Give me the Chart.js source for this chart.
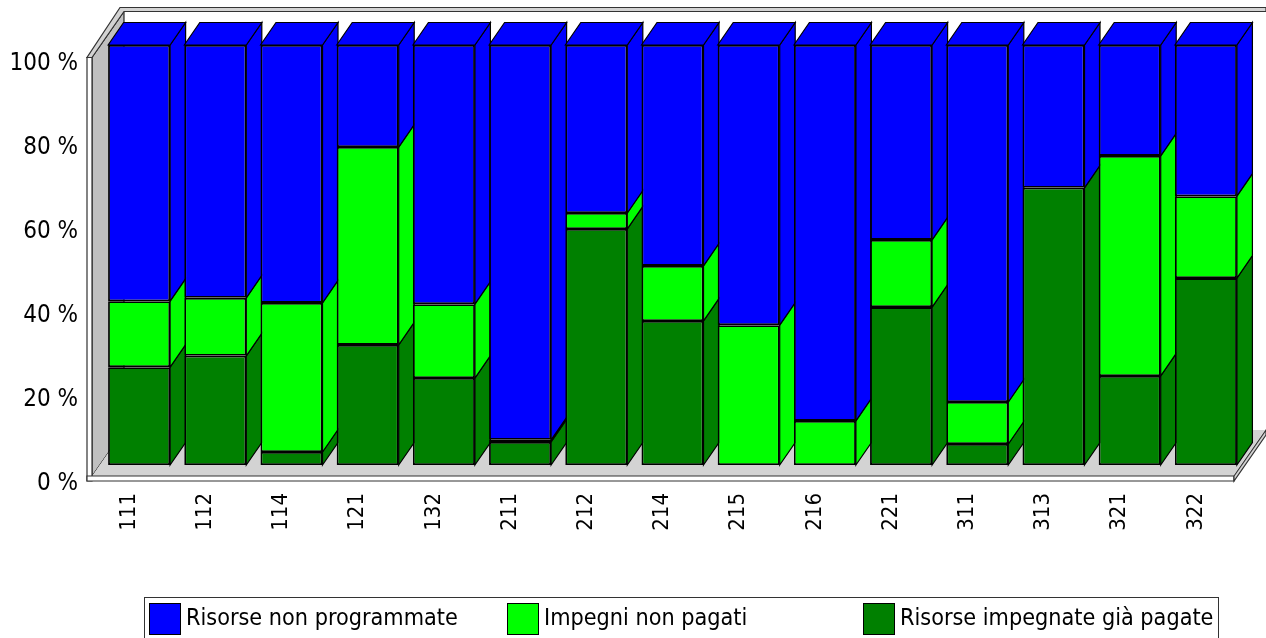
<!DOCTYPE html>
<html>
<head>
<meta charset="utf-8">
<script src="https://cdn.jsdelivr.net/npm/chart.js@4"></script>
<style>
    html, body { margin: 0; padding: 0; background: #fff; overflow: hidden; }
    #wrap { position: relative; width: 1266px; height: 638px; overflow: hidden; }
    #legend { position: absolute; left: 144px; top: 597px; width: 1075px; height: 60px; border: 1px solid #333; box-sizing: border-box; }
    .item { position: absolute; top: 5px; height: 32px; white-space: nowrap; font: 23.2px "DejaVu Sans Condensed", "DejaVu Sans", sans-serif; color: #000; line-height: 28px; }
    .swatch { display: inline-block; width: 30px; height: 30px; border: 1px solid #000; vertical-align: top; margin-right: 5px; }
</style>
</head>
<body>
<div id="wrap">
    <canvas id="chart" width="1266" height="638"></canvas>
    <div id="legend"></div>
</div>
<script>
const categories = ['111', '112', '114', '121', '132', '211', '212', '214', '215', '216', '221', '311', '313', '321', '322'];
const paid = [23.3, 26, 3.1, 28.6, 20.7, 5.5, 56.2, 34.3, 0, 0, 37.6, 5, 66, 21.2, 44.5];
const unpaid = [15.7, 13.8, 35.5, 47.1, 17.6, 0.5, 3.8, 13.1, 33.3, 10.5, 16, 10, 0, 52.4, 19.5];
const notProgrammed = [61, 60.2, 61.4, 24.3, 61.7, 94, 40, 52.6, 66.7, 89.5, 46.4, 85, 34, 26.4, 36];
const yTicks = [0, 20, 40, 60, 80, 100];
const legendLabels = ['Risorse non programmate', 'Impegni non pagati', 'Risorse impegnate già pagate'];
const legendColors = ['#0000ff', '#00ff00', '#008000'];
const legendLefts = [4, 362, 718];

// depth of the bars and of the box behind them
const barDx = 15.5, barDy = -22.5;
const fontFamily = '"DejaVu Sans Condensed", "DejaVu Sans", sans-serif';

function poly(ctx, pts, fill, stroke, lw) {
    ctx.beginPath();
    pts.forEach((p, i) => i ? ctx.lineTo(p[0], p[1]) : ctx.moveTo(p[0], p[1]));
    ctx.closePath();
    if (fill) { ctx.fillStyle = fill; ctx.fill(); }
    if (stroke) { ctx.strokeStyle = stroke; ctx.lineWidth = lw || 1; ctx.stroke(); }
}

const boxPlugin = {
    id: 'box3d',
    beforeDatasetsDraw(chart) {
        const ctx = chart.ctx;
        const { left, right } = chart.chartArea;
        const base = chart.scales.y.getPixelForValue(0);
        const top = chart.scales.y.getPixelForValue(100);
        const l0 = left - 14, l1 = left - 9, r1 = right - 11, r0 = right - 10;
        const b0 = base + 16, b1 = base + 11;
        const t0 = top + 12.5;
        const dx = 32, dy = -46;
        ctx.save();
        // left wall and floor
        poly(ctx, [[l1, b1], [l1, t0], [l1 + dx, t0 + dy], [l1 + dx, b1 + dy]], '#c0c0c0', '#000', 1);
        poly(ctx, [[l1, b1], [r1, b1], [r1 + dx, b1 + dy], [l1 + dx, b1 + dy]], '#d3d3d3', null);
        // front rims
        poly(ctx, [[l0, t0], [l1, t0], [l1 + dx, t0 + dy], [r0 + dx, t0 + dy], [r0 + dx, t0 + dy - 4], [l0 + dx + 1, t0 + dy - 4]], '#d3d3d3', '#333', 1.2);
        poly(ctx, [[l0, t0], [l1, t0], [l1, b0], [l0, b0]], '#fff', '#333', 1.2);
        poly(ctx, [[l0, b1], [r0, b1], [r0, b0], [l0, b0]], '#fff', '#333', 1.2);
        poly(ctx, [[r0, b1], [r0 + dx, b1 + dy], [r0 + dx, b1 + dy + 5], [r0, b0]], '#d3d3d3', '#333', 1.2);
        ctx.restore();

        // side and top faces of the bars, the front faces are the chart's own bars
        const count = chart.data.labels.length;
        for (let i = 0; i < count; i++) {
            chart.data.datasets.forEach((ds, d) => {
                const bar = chart.getDatasetMeta(d).data[i];
                const x1 = bar.x + bar.width / 2;
                const x0 = bar.x - bar.width / 2;
                if (ds.data[i] > 0) {
                    poly(ctx, [[x1, bar.base], [x1 + barDx, bar.base + barDy], [x1 + barDx, bar.y + barDy], [x1, bar.y]], ds.backgroundColor, '#000', 1.2);
                }
                if (d === chart.data.datasets.length - 1) {
                    poly(ctx, [[x0, bar.y], [x0 + barDx, bar.y + barDy], [x1 + barDx, bar.y + barDy], [x1, bar.y]], ds.backgroundColor, '#000', 1.2);
                }
            });
        }
    }
};

function barSet(label, data, color) {
    return { label: label, data: data, backgroundColor: color, borderColor: '#000', borderWidth: 1.8, borderSkipped: false };
}

new Chart(document.getElementById('chart').getContext('2d'), {
    type: 'bar',
    data: {
        labels: categories,
        datasets: [
            barSet(legendLabels[2], paid, legendColors[2]),
            barSet(legendLabels[1], unpaid, legendColors[1]),
            barSet(legendLabels[0], notProgrammed, legendColors[0])
        ]
    },
    options: {
        responsive: false,
        animation: false,
        categoryPercentage: 1,
        barPercentage: 0.814,
        layout: { padding: { top: 45, right: 22, bottom: 0, left: 0 } },
        plugins: { legend: { display: false }, tooltip: { enabled: false } },
        scales: {
            x: {
                stacked: true,
                grid: { display: false, drawTicks: false },
                border: { display: false },
                afterFit: (axis) => { axis.height = 173; },
                ticks: {
                    autoSkip: false, minRotation: 90, maxRotation: 90, padding: 28, labelOffset: -10,
                    color: '#000', font: { size: 22, family: fontFamily }
                }
            },
            y: {
                stacked: true,
                min: 0,
                max: 100,
                grid: { display: false, drawTicks: false },
                border: { display: false },
                afterFit: (axis) => { axis.width = 101; },
                afterBuildTicks: (axis) => { axis.ticks = yTicks.map(v => ({ value: v })); },
                ticks: {
                    padding: 23, labelOffset: 19, color: '#000',
                    font: { size: 24, family: fontFamily },
                    callback: (v) => v + ' %'
                }
            }
        }
    },
    plugins: [boxPlugin]
});

const legendEl = document.getElementById('legend');
legendLabels.forEach((text, i) => {
    const item = document.createElement('div');
    item.className = 'item';
    item.style.left = legendLefts[i] + 'px';
    const swatch = document.createElement('span');
    swatch.className = 'swatch';
    swatch.style.background = legendColors[i];
    item.appendChild(swatch);
    item.appendChild(document.createTextNode(text));
    legendEl.appendChild(item);
});
</script>
</body>
</html>
